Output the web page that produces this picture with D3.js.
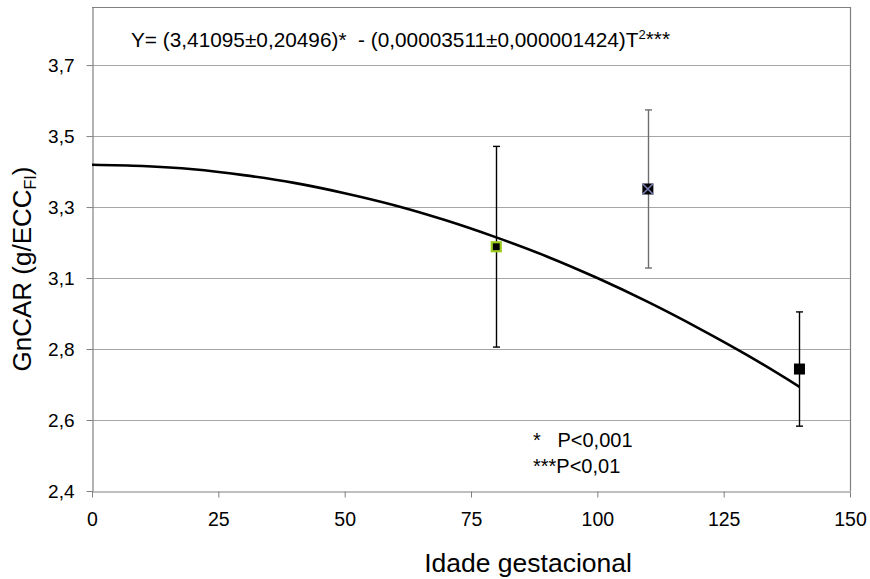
<!DOCTYPE html>
<html>
<head>
<meta charset="utf-8">
<script src="https://cdn.jsdelivr.net/npm/d3@7"></script>
<style>
  html, body { margin: 0; padding: 0; background: #fff; }
  text { font-family: "Liberation Sans", Arial, sans-serif; fill: #000; }
</style>
</head>
<body>
<svg id="chart" width="870" height="579"></svg>
<script>
// ---- data ----
const pointX = [80, 110, 140];
const pointY = [3.157, 3.336, 2.778];
const pointErr = [0.311, 0.245, 0.177];

const curveT = [0, 10, 20, 30, 40, 50, 60, 70, 80, 90, 100, 110, 120, 130, 140];
const curveY = [3.411, 3.407, 3.397, 3.379, 3.355, 3.323, 3.285, 3.239, 3.186, 3.127, 3.060, 2.986, 2.905, 2.818, 2.723];

const xTickValues = [0, 25, 50, 75, 100, 125, 150];
const yTickValues = [2.4, 2.62, 2.84, 3.06, 3.28, 3.5, 3.72];
const yTickLabels = ["2,4", "2,6", "2,8", "3,1", "3,3", "3,5", "3,7"];

// ---- layout ----
const svg = d3.select("#chart");
const L = 92, R = 850, T = 7, B = 491;
const x = d3.scaleLinear().domain([0, 150]).range([L, R]);
const y = d3.scaleLinear().domain([2.4, 3.9]).range([B, T]);

// gridlines
svg.append("g").selectAll("line").data(yTickValues.slice(1)).join("line")
  .attr("x1", L).attr("x2", R)
  .attr("y1", d => Math.round(y(d)) + 0.5).attr("y2", d => Math.round(y(d)) + 0.5)
  .attr("stroke", "#a6a6a6").attr("stroke-width", 1);

// plot border (top and right)
svg.append("path")
  .attr("d", `M${L},${T + 0.5}H${R + 0.5}V${B}`)
  .attr("fill", "none").attr("stroke", "#808080").attr("stroke-width", 1.2);

// axes
const xAxis = d3.axisBottom(x).tickValues(xTickValues).tickSize(6).tickSizeOuter(0).tickPadding(15)
  .tickFormat(d3.format("d"));
const gx = svg.append("g").attr("transform", `translate(0,${B + 0.5})`).call(xAxis);
gx.select(".domain").attr("stroke", "#808080").attr("stroke-width", 1.2);
gx.selectAll(".tick line").attr("stroke", "#808080");
gx.selectAll(".tick text").attr("font-size", 19.5).attr("font-family", "Liberation Sans, Arial, sans-serif").attr("fill", "#000");

const yAxis = d3.axisLeft(y).tickValues(yTickValues).tickSize(6).tickSizeOuter(0).tickPadding(12)
  .tickFormat((d, i) => yTickLabels[i]);
const gy = svg.append("g").attr("transform", `translate(${L + 0.5},0)`).call(yAxis);
gy.select(".domain").attr("stroke", "#808080").attr("stroke-width", 1.2);
gy.selectAll(".tick line").attr("stroke", "#808080");
gy.selectAll(".tick text").attr("font-size", 19).attr("font-family", "Liberation Sans, Arial, sans-serif").attr("fill", "#000");

// fitted curve
const line = d3.line().x((d, i) => x(curveT[i])).y(d => y(d)).curve(d3.curveCatmullRom);
svg.append("path").datum(curveY).attr("d", line)
  .attr("fill", "none").attr("stroke", "#000").attr("stroke-width", 2.6);

// error bars
const errColors = ["#000", "#6e6e6e", "#000"];
const cap = 3.5;
const eb = svg.append("g");
pointX.forEach((px, i) => {
  const cx = Math.round(x(px)) + 0.5;
  const top = y(pointY[i] + pointErr[i]), bot = y(pointY[i] - pointErr[i]);
  eb.append("line").attr("x1", cx).attr("x2", cx).attr("y1", top).attr("y2", bot)
    .attr("stroke", errColors[i]).attr("stroke-width", 1.4);
  [top, bot].forEach(v => eb.append("line").attr("x1", cx - cap).attr("x2", cx + cap)
    .attr("y1", v).attr("y2", v).attr("stroke", errColors[i]).attr("stroke-width", 1.4));
});

// markers
const ms = 11;
const mk = svg.append("g");
// point 1: black square with yellow-green border
mk.append("rect").attr("x", x(pointX[0]) - ms / 2 + 1).attr("y", y(pointY[0]) - ms / 2 + 1)
  .attr("width", ms - 2).attr("height", ms - 2)
  .attr("fill", "#000").attr("stroke", "#9dcc1e").attr("stroke-width", 2.2);
// point 2: black square with blue-grey X
mk.append("rect").attr("x", x(pointX[1]) - ms / 2).attr("y", y(pointY[1]) - ms / 2)
  .attr("width", ms).attr("height", ms).attr("fill", "#000");
const xc = x(pointX[1]), yc = y(pointY[1]), h = ms / 2;
mk.append("path").attr("d", `M${xc - h},${yc - h}L${xc + h},${yc + h}M${xc - h},${yc + h}L${xc + h},${yc - h}`)
  .attr("stroke", "#7b7fb8").attr("stroke-width", 1.6);
// point 3: black square
mk.append("rect").attr("x", x(pointX[2]) - ms / 2).attr("y", y(pointY[2]) - ms / 2)
  .attr("width", ms).attr("height", ms).attr("fill", "#000");

// equation
const eq = svg.append("text").attr("x", 131).attr("y", 47).attr("font-size", 20.8).attr("xml:space", "preserve");
eq.append("tspan").text("Y= (3,41095±0,20496)*  - (0,00003511±0,000001424)T");
eq.append("tspan").attr("font-size", 13).attr("dy", -8).text("2");
eq.append("tspan").attr("dy", 7).text("***");

// p-values
svg.append("text").attr("x", 533).attr("y", 447).attr("font-size", 20).attr("xml:space", "preserve").text("*   P<0,001");
svg.append("text").attr("x", 533).attr("y", 473).attr("font-size", 20).text("***P<0,01");

// axis titles
svg.append("text").attr("x", 528).attr("y", 572).attr("text-anchor", "middle")
  .attr("font-size", 26.5).text("Idade gestacional");

const yt = svg.append("text").attr("transform", `translate(31,${(T + B) / 2 + 20}) rotate(-90)`)
  .attr("text-anchor", "middle").attr("font-size", 26);
yt.append("tspan").text("GnCAR (g/ECC");
yt.append("tspan").attr("font-size", 16).attr("dy", 5).text("FI");
yt.append("tspan").attr("dy", -5).text(")");
</script>
</body>
</html>
